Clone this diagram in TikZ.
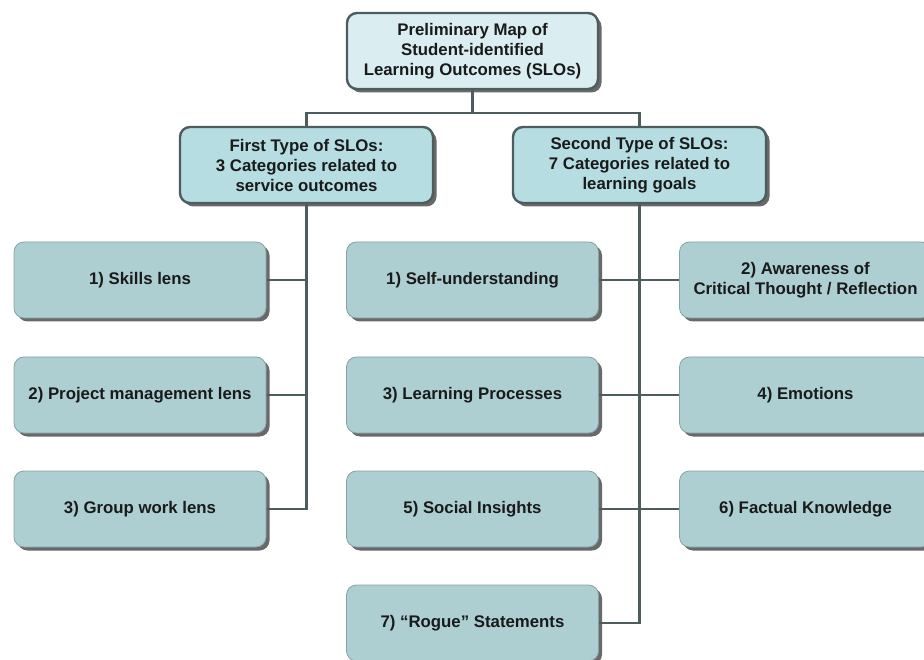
\documentclass[tikz,border=0pt]{standalone}
\usepackage{fontspec}
\setmainfont{Liberation Sans}
\usetikzlibrary{shadows,backgrounds}
\definecolor{topfill}{HTML}{DAEEF1}
\definecolor{midfill}{HTML}{B6DDE2}
\definecolor{lowfill}{HTML}{AECFD2}
\definecolor{darkline}{HTML}{4D5C5C}
\definecolor{lowborder}{HTML}{86A2A4}
\definecolor{txt}{HTML}{1A1A1A}
\tikzset{
  basebox/.style={rounded corners=10pt, minimum width=252pt, minimum height=76pt,
    align=center, inner sep=2pt, text=txt,
    font=\fontsize{16.8}{20}\selectfont\bfseries,
    drop shadow={shadow xshift=3.5pt, shadow yshift=-3.5pt, fill=black!65, opacity=0.9}},
  headbox/.style={basebox, draw=darkline, line width=2.4pt},
  lowbox/.style={basebox, draw=lowborder, line width=0.8pt, fill=lowfill},
  conn/.style={draw=darkline, line width=2.4pt}
}
\begin{document}
\begin{tikzpicture}[x=1pt,y=-1pt]
\useasboundingbox (0,0) rectangle (924,660);
% boxes
\node[headbox, fill=topfill, minimum width=251pt] (top) at (472.5,51) {Preliminary Map of\\Student-identified\\Learning Outcomes (SLOs)};
\node[headbox, fill=midfill, minimum width=253pt] (first) at (306.5,165) {First Type of SLOs:\\3 Categories related to\\service outcomes};
\node[headbox, fill=midfill, minimum width=253pt] (second) at (639.5,165) {Second Type of SLOs:\\7 Categories related to\\learning goals};
\node[lowbox] (l1) at (140,280) {1) Skills lens};
\node[lowbox] (l2) at (140,395) {2) Project management lens};
\node[lowbox] (l3) at (140,509) {3) Group work lens};
\node[lowbox] (m1) at (472.5,280) {1) Self-understanding};
\node[lowbox] (m2) at (472.5,395) {3) Learning Processes};
\node[lowbox] (m3) at (472.5,509) {5) Social Insights};
\node[lowbox] (m4) at (472.5,623) {7) “Rogue” Statements};
\node[lowbox] (r1) at (805.5,280) {2) Awareness of\\Critical Thought / Reflection};
\node[lowbox] (r2) at (805.5,395) {4) Emotions};
\node[lowbox] (r3) at (805.5,509) {6) Factual Knowledge};
% connectors
\coordinate (j) at (472.5,113);
\begin{scope}[on background layer]
\draw[conn] (top.south) -- (j);
\draw[conn] (j) -| (first.north);
\draw[conn] (j) -| (second.north);
\draw[conn] (first.south) |- (l3.east);
\draw[conn] (l1.east) -- (l1.east -| first.south);
\draw[conn] (l2.east) -- (l2.east -| first.south);
\draw[conn] (second.south) |- (m4.east);
\draw[conn] (m1.east) -- (r1.west);
\draw[conn] (m2.east) -- (r2.west);
\draw[conn] (m3.east) -- (r3.west);
\end{scope}
\end{tikzpicture}
\end{document}
